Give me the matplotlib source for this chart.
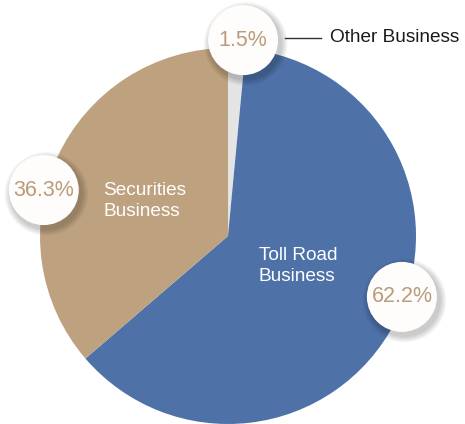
import matplotlib
matplotlib.use("Agg")
import matplotlib.pyplot as plt
from matplotlib.patches import Circle
import numpy as np

plt.rcParams['font.family'] = ['Liberation Sans', 'DejaVu Sans']

# Data
categories = ["Other Business", "Toll Road Business", "Securities Business"]
shares = [1.5, 62.2, 36.3]
pct_labels = ["1.5%", "62.2%", "36.3%"]
colors = ["#e4e4e4", "#4e72a8", "#bea27f"]

W, H = 465, 424
fig = plt.figure(figsize=(W / 100, H / 100), dpi=100)
ax = fig.add_axes([0, 0, 1, 1])

cx, cy, R = 228, 188, 188  # pixel center (from bottom) and radius
ax.pie(shares, colors=colors, startangle=90, counterclock=False,
       radius=1, center=(0, 0), wedgeprops=dict(linewidth=0))
ax.set_xlim(-cx / R, (W - cx) / R)
ax.set_ylim(-cy / R, (H - cy) / R)
ax.set_aspect('auto')
ax.axis('off')

# label bubble positions (angle deg, radius) - layout only
bubble_pos = [(85.6, 1.045), (-19.3, 0.98), (166.0, 1.01)]
br = 35 / R
for (ang, rr), txt in zip(bubble_pos, pct_labels):
    x = rr * np.cos(np.radians(ang))
    y = rr * np.sin(np.radians(ang))
    for k in range(6, 0, -1):
        ax.add_patch(Circle((x + 0.014, y - 0.02), br + k * 0.006,
                            color='black', alpha=0.035, lw=0, zorder=5))
    ax.add_patch(Circle((x, y), br, color='#fefdfc', lw=0, zorder=6))
    ax.text(x, y, txt, ha='center', va='center', fontsize=15.5,
            color='#b99c7a', zorder=7)

# inner labels
ax.text((103 - cx) / R, (H - 201 - cy) / R, "Securities\nBusiness",
        ha='left', va='center', fontsize=13.7, color='white',
        linespacing=1.32, zorder=4)
ax.text((259 - cx) / R, (H - 266 - cy) / R, "Toll Road\nBusiness",
        ha='left', va='center', fontsize=13.7, color='white',
        linespacing=1.32, zorder=4)

# Other business callout
ly = (H - 38 - cy) / R
ax.plot([(285 - cx) / R, (321 - cx) / R], [ly, ly], color='#333333', lw=1, zorder=4)
ax.text((330 - cx) / R, ly, categories[0], ha='left', va='center',
        fontsize=13.7, color='#1a1a1a', zorder=4)

fig.savefig("out.png", dpi=100)
